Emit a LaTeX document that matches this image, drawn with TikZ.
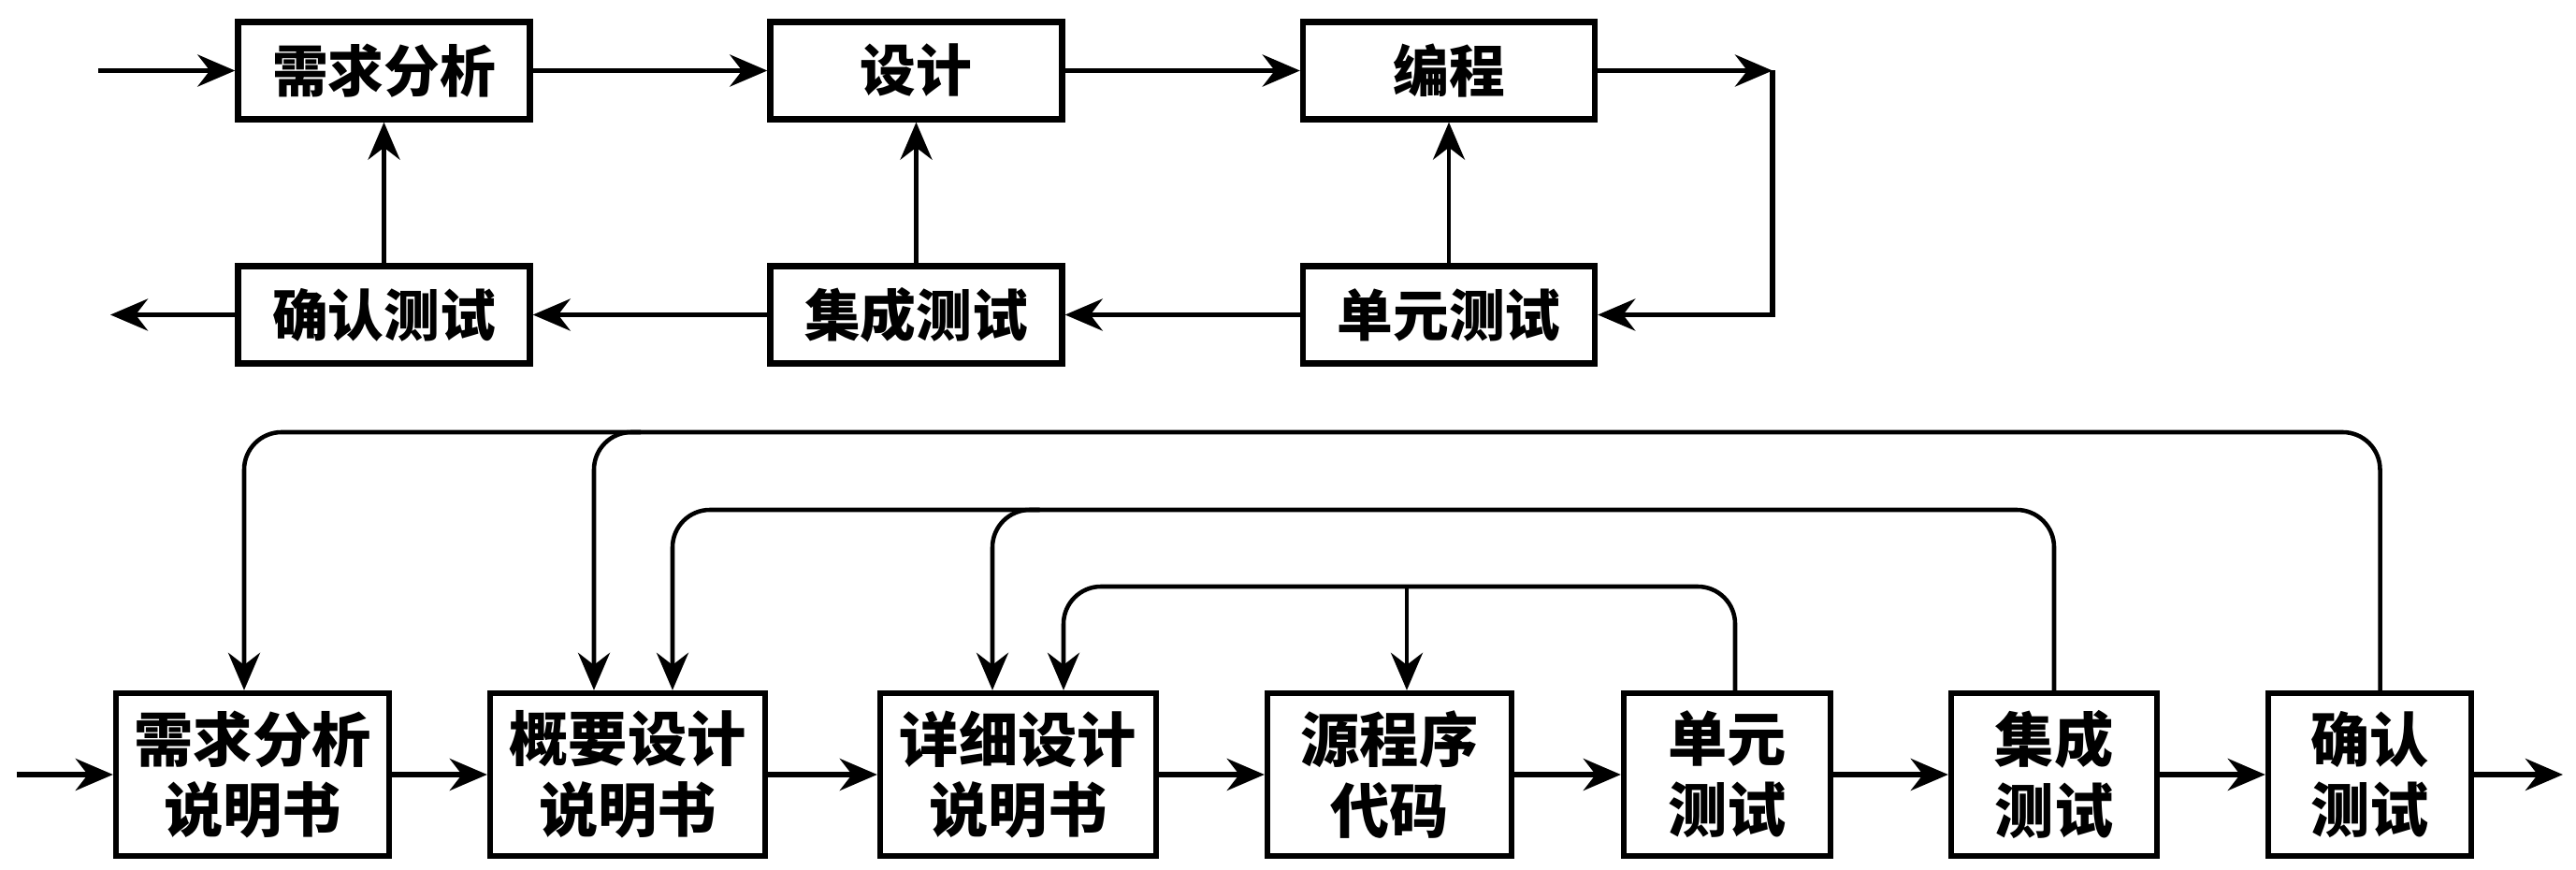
\documentclass[tikz,border=0pt]{standalone}
\usepackage{fontspec}
\setmainfont{Noto Sans CJK SC}
\usetikzlibrary{arrows.meta}
\tikzset{
  box/.style  = {draw, line width=1.8pt, align=center, inner sep=0pt,
                 minimum height=1.04cm, font=\fontsize{17pt}{20pt}\selectfont\bfseries},
  tbox/.style = {box, minimum width=3.12cm},
  dbox/.style = {box, minimum height=1.74cm,
                 font=\fontsize{18pt}{21.6pt}\selectfont\bfseries},
  ar/.style   = {-{Stealth[length=4mm, width=3.4mm, inset=1.3mm]}, line width=1.6pt},
  ln/.style   = {ar, line width=1.3pt, rounded corners=4mm},
}

\begin{document}
\begin{tikzpicture}
    \useasboundingbox (0,0) rectangle (27.54,-9.30);

    % upper loop
    \node[tbox] (xqfx) at (4.105,-0.755) {需求分析};
    \node[tbox] (sj)   at (9.795,-0.755) {设计};
    \node[tbox] (bc)   at (15.49,-0.755) {编程};
    \node[tbox] (qrt)  at (4.105,-3.365) {确认测试};
    \node[tbox] (jct)  at (9.795,-3.365) {集成测试};
    \node[tbox] (dyt)  at (15.49,-3.365) {单元测试};
    \coordinate (in1)  at (1.05,-0.755);
    \coordinate (out1) at (1.18,-3.365);
    \coordinate (turn) at (18.95,-0.755);

    \draw[ar] (in1) -- (xqfx.west);
    \draw[ar] (xqfx.east) -- (sj.west);
    \draw[ar] (sj.east) -- (bc.west);
    \draw[ar] (bc.east) -- (turn);
    \draw[ar] (turn) |- (dyt.east);
    \draw[ar] (dyt.west) -- (jct.east);
    \draw[ar] (jct.west) -- (qrt.east);
    \draw[ar] (qrt.west) -- (out1);
    \draw[ar, line width=1.3pt] (qrt.north) -- (xqfx.south);
    \draw[ar, line width=1.3pt] (jct.north) -- (sj.south);
    \draw[ar, line width=1.3pt] (dyt.north) -- (bc.south);

    % lower chain of documents
    \node[dbox, minimum width=2.92cm] (xqsm) at (2.70,-8.28)   {需求分析\\说明书};
    \node[dbox, minimum width=2.94cm] (gysj) at (6.71,-8.28)   {概要设计\\说明书};
    \node[dbox, minimum width=2.95cm] (xxsj) at (10.885,-8.28) {详细设计\\说明书};
    \node[dbox, minimum width=2.61cm] (ydm)  at (14.855,-8.28) {源程序\\代码};
    \node[dbox, minimum width=2.21cm] (dycs) at (18.465,-8.28) {单元\\测试};
    \node[dbox, minimum width=2.20cm] (jccs) at (21.96,-8.28)  {集成\\测试};
    \node[dbox, minimum width=2.17cm] (qrcs) at (25.335,-8.28) {确认\\测试};
    \coordinate (in2)  at (0.18,-8.28);
    \coordinate (out2) at (27.40,-8.28);
    \coordinate (l1) at (0,-4.62);
    \coordinate (l2) at (0,-5.45);
    \coordinate (l3) at (0,-6.27);

    \draw[ar] (in2) -- (xqsm.west);
    \draw[ar] (xqsm.east) -- (gysj.west);
    \draw[ar] (gysj.east) -- (xxsj.west);
    \draw[ar] (xxsj.east) -- (ydm.west);
    \draw[ar] (ydm.east) -- (dycs.west);
    \draw[ar] (dycs.east) -- (jccs.west);
    \draw[ar] (jccs.east) -- (qrcs.west);
    \draw[ar] (qrcs.east) -- (out2);

    % feedback lines
    \draw[ln] ([xshift=1.1mm]qrcs.north) |- ([xshift=-0.9mm]xqsm.north |- l1)
              -- ([xshift=-0.9mm]xqsm.north);
    \draw[ln] ([xshift=1.4mm]gysj.north |- l1) -| ([xshift=-3.6mm]gysj.north);
    \draw[ln] (jccs.north) |- ([xshift=4.8mm]gysj.north |- l2)
              -- ([xshift=4.8mm]gysj.north);
    \draw[ln] ([xshift=2.3mm]xxsj.north |- l2) -| ([xshift=-2.75mm]xxsj.north);
    \draw[ln] ([xshift=0.85mm]dycs.north) |- ([xshift=4.85mm]xxsj.north |- l3)
              -- ([xshift=4.85mm]xxsj.north);
    \draw[ln] ([xshift=1.85mm]ydm.north |- l3) -- ([xshift=1.85mm]ydm.north);
\end{tikzpicture}
\end{document}
